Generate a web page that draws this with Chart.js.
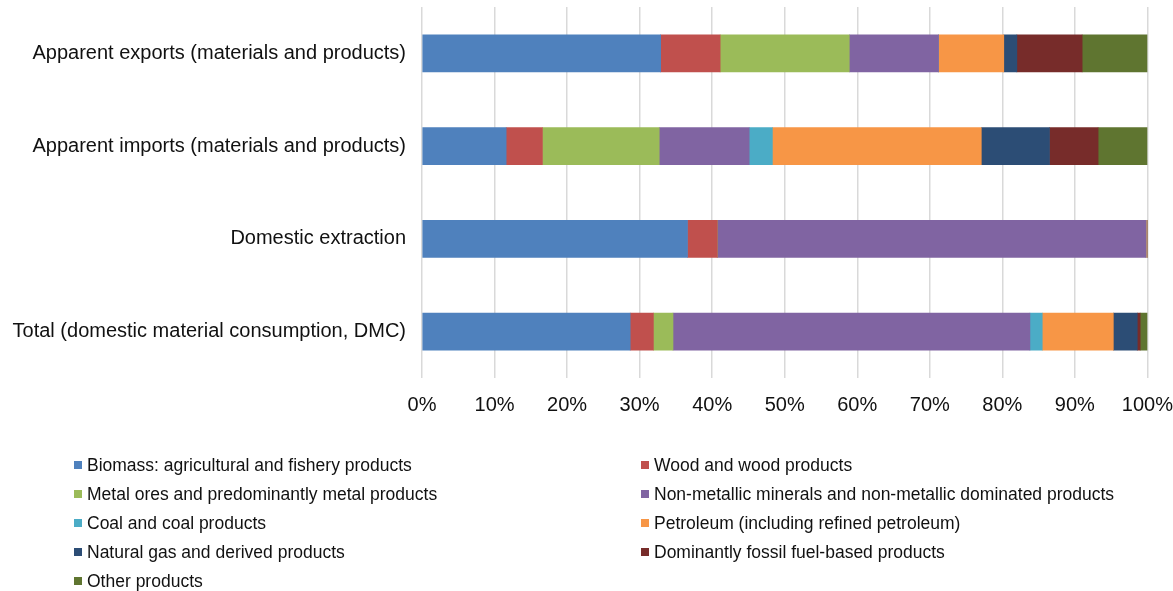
<!DOCTYPE html>
<html>
<head>
<meta charset="utf-8">
<script src="https://cdn.jsdelivr.net/npm/chart.js@4"></script>
<style>
  html, body { margin: 0; padding: 0; background: #fff; }
  body { width: 1173px; height: 591px; position: relative; overflow: hidden; font-family: "Liberation Sans", Arial, sans-serif; }
  #wrap { position: absolute; left: 0; top: -21px; width: 1188px; height: 451px; }
  #legend { position: absolute; left: 0; top: 0; width: 1173px; height: 591px; pointer-events: none; }
  .item { position: absolute; display: flex; align-items: center; font-size: 17.5px; color: #111; white-space: nowrap; }
  .sw { width: 8px; height: 8px; margin-right: 5px; }
</style>
</head>
<body>
<div id="wrap"><canvas id="c" width="1188" height="451"></canvas></div>
<div id="legend"></div>
<script>
const categories = [
  "Apparent exports (materials and products)",
  "Apparent imports (materials and products)",
  "Domestic extraction",
  "Total (domestic material consumption, DMC)"
];
const seriesNames = [
  "Biomass: agricultural and fishery products",
  "Wood and wood products",
  "Metal ores and predominantly metal products",
  "Non-metallic minerals and non-metallic dominated products",
  "Coal and coal products",
  "Petroleum (including refined petroleum)",
  "Natural gas and derived products",
  "Dominantly fossil fuel-based products",
  "Other products"
];
const biomass   = [32.9, 11.6, 36.6, 28.7];
const wood      = [8.2, 5.0, 4.1, 3.2];
const metal     = [17.8, 16.1, 0, 2.7];
const nonMetal  = [12.3, 12.4, 59.1, 49.2];
const coal      = [0, 3.2, 0, 1.7];
const petroleum = [9.0, 28.8, 0.2, 9.8];
const natGas    = [1.8, 9.4, 0, 3.3];
const fossil    = [9.0, 6.7, 0, 0.4];
const other     = [9.0, 6.8, 0, 1.0];
const xTickLabels = ["0%","10%","20%","30%","40%","50%","60%","70%","80%","90%","100%"];
const colors = ["#4F81BD","#C0504D","#9BBB59","#8064A2","#4BACC6","#F79646","#2C4D75","#772C2A","#5F7530"];

const seriesValues = [biomass, wood, metal, nonMetal, coal, petroleum, natGas, fossil, other];
const datasets = seriesNames.map((n, i) => ({
  label: n,
  data: seriesValues[i],
  backgroundColor: colors[i],
  borderWidth: 0,
  barThickness: 37
}));

Chart.defaults.font.family = '"Liberation Sans", Arial, sans-serif';
Chart.defaults.color = "#111";

new Chart(document.getElementById("c"), {
  type: "bar",
  data: { labels: categories, datasets },
  options: {
    indexAxis: "y",
    responsive: false,
    animation: false,
    layout: { padding: { top: 5, right: 6, bottom: 0, left: 0 } },
    plugins: { legend: { display: false }, tooltip: { enabled: false } },
    scales: {
      x: {
        stacked: true,
        min: 0, max: 100,
        ticks: {
          stepSize: 10,
          padding: 15,
          font: { size: 20 },
          color: "#111",
          callback: (v, i) => xTickLabels[i]
        },
        grid: { color: "#d9d9d9", lineWidth: 1.5, drawTicks: false },
        border: { display: false },
        afterFit: (s) => { s.height = 52; }
      },
      y: {
        stacked: true,
        ticks: { padding: 16, font: { size: 20 }, color: "#111" },
        grid: { display: false, drawTicks: false },
        border: { display: false },
        afterFit: (s) => { s.width = 422; }
      }
    }
  }
});

const legend = document.getElementById("legend");
const rowsY = [465, 494, 523, 552, 581];
seriesNames.forEach((n, i) => {
  const col = i % 2, row = Math.floor(i / 2);
  const d = document.createElement("div");
  d.className = "item";
  d.style.left = (col === 0 ? 74 : 641) + "px";
  d.style.top = (rowsY[row] - 10) + "px";
  d.style.height = "20px";
  const sw = document.createElement("span");
  sw.className = "sw";
  sw.style.background = colors[i];
  const t = document.createElement("span");
  t.textContent = n;
  d.appendChild(sw); d.appendChild(t);
  legend.appendChild(d);
});
</script>
</body>
</html>
